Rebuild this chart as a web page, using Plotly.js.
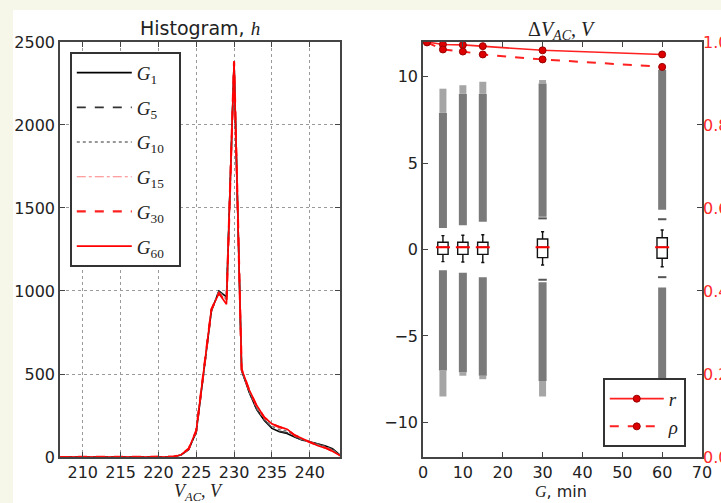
<!DOCTYPE html>
<html><head><meta charset="utf-8">
<script src="https://cdn.plot.ly/plotly-3.0.1.min.js"></script>
<style>
html,body{margin:0;padding:0;background:#f7f7e9;width:721px;height:503px;overflow:hidden;}
#chart{position:absolute;left:13px;top:10px;width:708px;height:493px;}
</style></head><body><div id="chart"></div>
<script>
// ---------- Left panel: histogram of V_AC ----------
const vac = [207,208,209,210,211,212,213,214,215,216,217,218,219,220,221,222,223,224,225,226,227,228,229,230,231,232,233,234,235,236,237,238,239,240,241,242,243,244];
const hG1  = [0,0,0,0,0,0,0,0,0,0,0,0,0,0,0,2,12,45,150,520,880,1000,965,2370,520,390,285,220,172,152,142,120,102,92,80,68,50,12];
const hG5  = [0,0,0,0,0,0,0,0,0,0,0,0,0,0,0,2,12,46,152,525,882,998,960,2372,522,392,288,222,175,155,146,122,103,91,78,66,46,11];
const hG10 = [0,0,0,0,0,0,0,0,0,0,0,0,0,0,0,2,13,47,154,528,884,995,950,2375,524,396,294,228,185,165,158,126,105,90,76,63,43,10];
const hG15 = [0,0,0,0,0,0,0,0,0,0,0,0,0,0,0,2,13,48,156,532,886,992,940,2378,526,400,300,235,195,178,172,132,108,90,74,60,40,10];
const hG30 = [0,0,0,0,0,0,0,0,0,0,0,0,0,0,0,2,14,50,158,536,888,988,930,2382,528,402,305,238,198,180,166,131,109,89,72,57,37,9];
const hG60 = [0,0,0,0,0,0,0,0,0,0,0,0,0,0,0,2,14,50,160,540,890,985,920,2385,530,405,310,240,200,182,168,132,110,88,70,55,35,8];

// ---------- Right panel: Delta V_AC boxes and correlations ----------
const groups   = [5,10,15,30,60];
const q1       = [-0.28,-0.28,-0.28,-0.47,-0.51];
const median   = [0.13,0.13,0.13,0.13,0.13];
const q3       = [0.42,0.42,0.42,0.61,0.68];
const whiskLo  = [-0.7,-0.72,-0.75,-0.9,-1.0];
const whiskHi  = [0.8,0.82,0.85,1.03,1.13];
// outlier extents (dense band and sparse tails)
const hiDenseLo  = [1.25,1.4,1.6,1.9,2.3];
const hiDenseHi  = [7.9,9.0,9.0,9.6,10.4];
const hiSparseHi = [9.3,9.5,9.7,9.8,10.4];
const loDenseHi  = [-1.2,-1.35,-1.6,-1.9,-2.2];
const loDenseLo  = [-7.0,-7.1,-7.3,-7.6,-9.5];
const loSparseLo = [-8.5,-7.3,-7.5,-8.5,-9.5];
const sparseX    = [30,30,60,60];
const sparseY    = [1.8,-1.75,1.75,-1.6];

const gCorr = [1,5,10,15,30,60];
const rVal   = [1.0,0.994,0.993,0.990,0.980,0.970];
const rhoVal = [0.999,0.982,0.977,0.970,0.958,0.940];

const serif = "'Liberation Serif', 'DejaVu Serif', serif";
const sans  = "'DejaVu Sans', sans-serif";
const pad = '&nbsp;&nbsp;';

function segs(xs, a, b){
  const X=[],Y=[];
  for(let i=0;i<xs.length;i++){X.push(xs[i],xs[i],null);Y.push(a[i],b[i],null);}
  return {x:X,y:Y};
}

const histStyles = [
  {name:'<i>G</i><sub>1</sub>'+pad,  y:hG1,  line:{color:'#000000',width:1.6,dash:'solid'}},
  {name:'<i>G</i><sub>5</sub>'+pad,  y:hG5,  line:{color:'#333333',width:1.6,dash:'dash'}},
  {name:'<i>G</i><sub>10</sub>'+pad, y:hG10, line:{color:'#777777',width:1.6,dash:'dot'}},
  {name:'<i>G</i><sub>15</sub>'+pad, y:hG15, line:{color:'#ff8080',width:1,dash:'dashdot'}},
  {name:'<i>G</i><sub>30</sub>'+pad, y:hG30, line:{color:'#ff2020',width:2.2,dash:'dash'}},
  {name:'<i>G</i><sub>60</sub>'+pad, y:hG60, line:{color:'#ff0000',width:1.6,dash:'solid'}}
];
const traces = [];
histStyles.forEach((s,i)=>{
  traces.push({type:'scatter',mode:'lines',x:vac,y:s.y,name:s.name,line:s.line,
    xaxis:'x',yaxis:'y',legend:'legend',legendgroup:'h'+i});
});

const hd = segs(groups,hiDenseLo,hiDenseHi);
const hs = segs(groups,hiDenseHi,hiSparseHi);
const ld = segs(groups,loDenseHi,loDenseLo);
const ls = segs(groups,loDenseLo,loSparseLo);
traces.push({type:'scatter',mode:'lines',x:hs.x.concat(ls.x),y:hs.y.concat(ls.y),
  line:{color:'#a5a5a5',width:7},xaxis:'x2',yaxis:'y2',showlegend:false,hoverinfo:'skip'});
traces.push({type:'scatter',mode:'lines',x:hd.x.concat(ld.x),y:hd.y.concat(ld.y),
  line:{color:'#7a7a7a',width:8},xaxis:'x2',yaxis:'y2',showlegend:false,hoverinfo:'skip'});
traces.push({type:'scatter',mode:'markers',x:sparseX,y:sparseY,
  marker:{symbol:'line-ew',size:6,line:{color:'#555',width:2}},xaxis:'x2',yaxis:'y2',showlegend:false});
traces.push({type:'box',x:groups,q1:q1,median:median,q3:q3,lowerfence:whiskLo,upperfence:whiskHi,
  width:2.6,whiskerwidth:0.3,fillcolor:'#ffffff',line:{color:'#111111',width:1.4},
  boxpoints:false,xaxis:'x2',yaxis:'y2',showlegend:false});
traces.push({type:'scatter',mode:'markers',x:groups,y:median,
  marker:{symbol:'line-ew',size:10,line:{color:'#ff0000',width:2}},xaxis:'x2',yaxis:'y2',showlegend:false});
traces.push({type:'scatter',mode:'lines+markers',x:gCorr,y:rVal,name:'<i>r</i>',
  line:{color:'#ff2020',width:1.6},marker:{color:'#dd0000',size:7,line:{color:'#990000',width:1}},
  xaxis:'x2',yaxis:'y3',legend:'legend2',legendgroup:'r',cliponaxis:true});
traces.push({type:'scatter',mode:'lines+markers',x:gCorr,y:rhoVal,name:'<i>ρ</i>',
  line:{color:'#ff2020',width:2,dash:'dash'},marker:{color:'#dd0000',size:7,line:{color:'#990000',width:1}},
  xaxis:'x2',yaxis:'y3',legend:'legend2',legendgroup:'rho',cliponaxis:true});

const tickFont = {family:sans,size:16,color:'#222'};
const axBase = {showline:true,linecolor:'#444',linewidth:1.8,ticks:'inside',ticklen:5,tickcolor:'#444',
  tickwidth:1,tickfont:tickFont,zeroline:false,automargin:false};
const yDom = [0.0933,0.9351];

const layout = {
  width:708,height:493,margin:{l:0,r:0,t:0,b:0},
  paper_bgcolor:'#ffffff',plot_bgcolor:'#ffffff',showlegend:true,
  xaxis:Object.assign({},axBase,{domain:[0.0664,0.4619],range:[207,244],dtick:5,tick0:210,
    mirror:'ticks',showgrid:true,gridcolor:'#9a9a9a',griddash:'dot',gridwidth:1,anchor:'y'}),
  yaxis:Object.assign({},axBase,{domain:yDom,range:[0,2500],dtick:500,mirror:'ticks',
    showgrid:true,gridcolor:'#9a9a9a',griddash:'dot',gridwidth:1,anchor:'x'}),
  xaxis2:Object.assign({},axBase,{domain:[0.5791,0.9732],range:[0,70],dtick:10,mirror:'ticks',
    showgrid:false,anchor:'y2'}),
  yaxis2:Object.assign({},axBase,{domain:yDom,range:[-12,12],tickvals:[-10,-5,0,5,10],
    ticktext:['\u221210','\u22125','0','5','10'],mirror:true,showgrid:false,anchor:'x2'}),
  yaxis3:Object.assign({},axBase,{overlaying:'y2',side:'right',anchor:'x2',range:[0,1],dtick:0.2,
    tickformat:'.1f',showline:false,showgrid:false,tickcolor:'#444',
    tickfont:{family:sans,size:16,color:'#ff2a2a'}}),
  legend:{x:0.0805,y:0.9148,xanchor:'left',yanchor:'top',bgcolor:'#ffffff',bordercolor:'#333',
    borderwidth:1.8,font:{family:serif,size:19,color:'#222'},traceorder:'grouped',tracegroupgap:7,
    itemwidth:55},
  legend2:{x:0.8333,y:0.2535,xanchor:'left',yanchor:'top',bgcolor:'#ffffff',bordercolor:'#333',
    borderwidth:1.8,font:{family:serif,size:19,color:'#222'},traceorder:'grouped',tracegroupgap:0,
    itemwidth:54},
  annotations:[
    {xref:'paper',yref:'paper',x:0.2641,y:0.9635,showarrow:false,xanchor:'center',yanchor:'middle',
     text:"Histogram, <span style=\"font-family:'Liberation Serif';font-style:italic\">h</span>",
     font:{family:sans,size:19,color:'#222'}},
    {xref:'paper',yref:'paper',x:0.7761,y:0.9594,showarrow:false,xanchor:'center',yanchor:'middle',
     text:"Δ<i>V</i><sub><i>AC</i></sub>, <i>V</i>",font:{family:serif,size:20,color:'#222'}},
    {xref:'paper',yref:'paper',x:0.2613,y:0.021,showarrow:false,xanchor:'center',yanchor:'middle',
     text:"<i>V</i><sub><i>AC</i></sub>, <i>V</i>",font:{family:serif,size:18,color:'#222'}},
    {xref:'paper',yref:'paper',x:0.774,y:0.024,showarrow:false,xanchor:'center',yanchor:'middle',
     text:"<span style=\"font-family:'Liberation Serif';font-style:italic\">G</span>, min",
     font:{family:sans,size:16,color:'#222'}}
  ]
};
Plotly.newPlot('chart',traces,layout,{staticPlot:true,displayModeBar:false});
</script></body></html>
